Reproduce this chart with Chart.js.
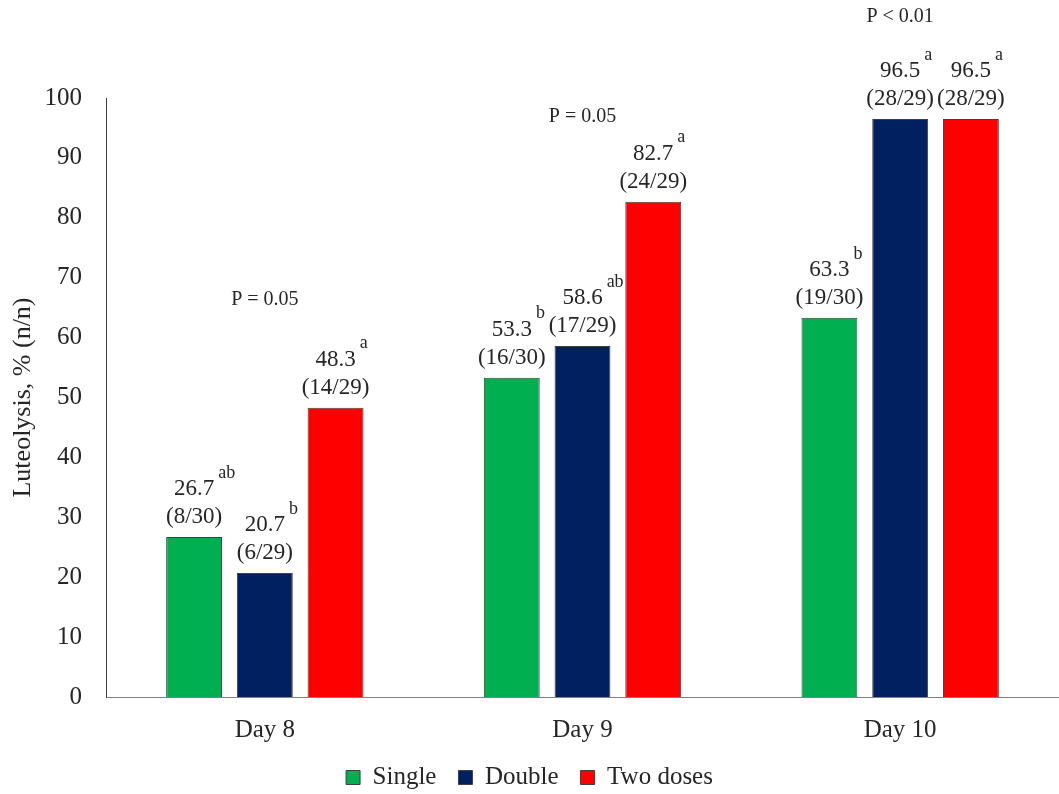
<!DOCTYPE html>
<html>
<head>
<meta charset="utf-8">
<script src="https://cdn.jsdelivr.net/npm/chart.js@4/dist/chart.umd.min.js"></script>
<style>
  html, body { margin: 0; padding: 0; background: #fff; }
  #wrap { width: 1059px; height: 794px; }
</style>
</head>
<body>
<div id="wrap"><canvas id="c" width="1059" height="794"></canvas></div>
<script>
// Luteolysis rate (%) by day of treatment and protocol
const categories = ['Day 8', 'Day 9', 'Day 10'];
const seriesNames = ['Single', 'Double', 'Two doses'];

const singleValues = [26.7, 53.3, 63.3];
const doubleValues = [20.7, 58.6, 96.5];
const twoDosesValues = [48.3, 82.7, 96.5];

// animals with luteolysis / animals treated
const singleCounts = ['8/30', '16/30', '19/30'];
const doubleCounts = ['6/29', '17/29', '28/29'];
const twoDosesCounts = ['14/29', '24/29', '28/29'];

// significance letters
const singleLetters = ['ab', 'b', 'b'];
const doubleLetters = ['b', 'ab', 'a'];
const twoDosesLetters = ['a', 'a', 'a'];

// P value for each day
const pValues = ['P = 0.05', 'P = 0.05', 'P < 0.01'];

const yTicks = [0, 10, 20, 30, 40, 50, 60, 70, 80, 90, 100];

const FONT = '"Liberation Serif", "Times New Roman", serif';
const TEXT = '#262626';

const counts = [singleCounts, doubleCounts, twoDosesCounts];
const letters = [singleLetters, doubleLetters, twoDosesLetters];

// height (axis units) at which each P value is written
const pLevel = [66.3, 96.8, 113.5];

const barLabels = {
  id: 'barLabels',
  afterDatasetsDraw(chart) {
    const ctx = chart.ctx;
    ctx.save();
    ctx.fillStyle = TEXT;
    chart.data.datasets.forEach((ds, i) => {
      const meta = chart.getDatasetMeta(i);
      meta.data.forEach((bar, j) => {
        const x = bar.x, top = bar.y;
        ctx.font = '23px ' + FONT;
        ctx.textAlign = 'center';
        ctx.textBaseline = 'middle';
        ctx.fillText('(' + counts[i][j] + ')', x, top - 20);
        const num = ds.data[j].toFixed(1);
        ctx.fillText(num, x, top - 48);
        const w = ctx.measureText(num).width;
        ctx.font = '18px ' + FONT;
        ctx.textAlign = 'left';
        ctx.fillText(letters[i][j], x + w / 2 + 4, top - 64);
      });
    });
    const xs = chart.scales.x, ys = chart.scales.y;
    ctx.font = '20px ' + FONT;
    ctx.textAlign = 'center';
    ctx.textBaseline = 'middle';
    pValues.forEach((p, j) => {
      ctx.fillText(p, xs.getPixelForValue(j), ys.getPixelForValue(pLevel[j]));
    });
    ctx.restore();
  }
};

new Chart(document.getElementById('c'), {
  type: 'bar',
  data: {
    labels: categories,
    datasets: [
      { label: seriesNames[0], data: singleValues, backgroundColor: '#00B050' },
      { label: seriesNames[1], data: doubleValues, backgroundColor: '#002060' },
      { label: seriesNames[2], data: twoDosesValues, backgroundColor: '#FF0000' }
    ]
  },
  options: {
    responsive: false,
    animation: false,
    devicePixelRatio: 1,
    layout: { padding: { top: 98, right: 0, left: 0, bottom: -6 } },
    datasets: {
      bar: {
        borderColor: '#404040',
        borderWidth: 1,
        categoryPercentage: 0.668,
        barPercentage: 0.79
      }
    },
    scales: {
      x: {
        afterFit(scale) { scale.height = 46; },
        grid: { display: false },
        border: { display: true, color: '#808080', width: 1 },
        ticks: { color: TEXT, font: { family: FONT, size: 25 }, padding: 10 }
      },
      y: {
        min: 0,
        max: 100,
        afterBuildTicks(scale) { scale.ticks = yTicks.map(v => ({ value: v })); },
        afterFit(scale) { scale.width = 106; },
        grid: { display: false },
        border: { display: true, color: '#404040', width: 1 },
        ticks: { color: TEXT, font: { family: FONT, size: 25 }, padding: 16 },
        title: {
          display: true,
          text: 'Luteolysis, % (n/n)',
          color: TEXT,
          font: { family: FONT, size: 26 },
          padding: { top: 8, bottom: 0 }
        }
      }
    },
    plugins: {
      legend: {
        position: 'bottom',
        labels: {
          color: TEXT,
          font: { family: FONT, size: 25 },
          boxWidth: 14,
          boxHeight: 14,
          padding: 22,
          generateLabels(chart) {
            return chart.data.datasets.map((ds, i) => ({
              text: ds.label,
              fillStyle: ds.backgroundColor,
              strokeStyle: '#404040',
              lineWidth: 1,
              fontColor: TEXT,
              datasetIndex: i
            }));
          }
        }
      },
      tooltip: { enabled: false }
    }
  },
  plugins: [barLabels]
});
</script>
</body>
</html>
